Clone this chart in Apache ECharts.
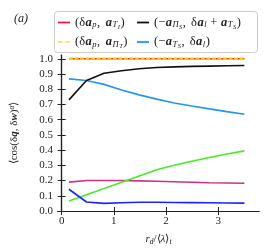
<!DOCTYPE html>
<html><head><meta charset="utf-8">
<script src="https://cdn.jsdelivr.net/npm/echarts@6/dist/echarts.min.js"></script>
<style>html,body{margin:0;padding:0;background:#fff}#c{width:270px;height:252px}</style>
</head><body><div id="c"></div>
<script>
const xValues = [0.14, 0.476, 0.812, 1.148, 1.484, 1.82, 2.156, 2.492, 2.828, 3.164, 3.5];
const redValues = [1, 1, 1, 1, 1, 1, 1, 1, 1, 1, 1];
const yellowValues = [1, 1, 1, 1, 1, 1, 1, 1, 1, 1, 1];
const blackValues = [0.73, 0.857, 0.905, 0.922, 0.935, 0.943, 0.947, 0.95, 0.952, 0.954, 0.956];
const lightBlueValues = [0.868, 0.857, 0.832, 0.795, 0.763, 0.735, 0.71, 0.69, 0.671, 0.653, 0.636];
const magentaValues = [0.19, 0.2, 0.2, 0.2, 0.198, 0.195, 0.192, 0.189, 0.186, 0.184, 0.182];
const greenValues = [0.066, 0.107, 0.148, 0.189, 0.23, 0.271, 0.3, 0.327, 0.352, 0.374, 0.395];
const blueValues = [0.143, 0.059, 0.05, 0.054, 0.057, 0.057, 0.056, 0.055, 0.054, 0.053, 0.052];
const xTicks = [0, 1, 2, 3];
const yTicks = [0, 0.1, 0.2, 0.3, 0.4, 0.5, 0.6, 0.7, 0.8, 0.9, 1.0];

const pair = ys => xValues.map((x, i) => [x, ys[i]]);
const SERIF = 'Liberation Serif';
const mk = (fs, extra) => Object.assign({fontFamily: SERIF, fontSize: fs, color: '#222'}, extra || {});
const rich = {
  n: mk(11), i: mk(11, {fontStyle: 'italic'}), b: mk(11, {fontStyle: 'italic', fontWeight: 'bold'}),
  s: mk(7.5, {fontStyle: 'italic', padding: [5, 0, 0, 0]}),
  ss: mk(5.5, {fontStyle: 'italic', padding: [8, 0, 0, 0]}),
  sup: mk(7.5, {fontStyle: 'italic', padding: [0, 0, 5, 0]})
};
const lrich = {
  n: mk(12.5), c: mk(12.5, {padding: [0, 2, 0, 0]}), b: mk(12.5, {fontStyle: 'italic', fontWeight: 'bold', padding: [0, 0.5, 0, 0.5]}),
  s: mk(8.5, {fontStyle: 'italic', padding: [5, 0.5, 0, 0]}),
  ss: mk(6.5, {fontStyle: 'italic', padding: [9, 0.5, 0, 0]})
};
const legendLabels = {
  red: '{n|(δ}{b|a}{s|p}{c|, }{b|a}{s|T}{ss|I}{n|)}',
  yellow: '{n|(δ}{b|a}{s|p}{c|, }{b|a}{s|Π}{ss|T}{n|)}',
  black: '{n|(−}{b|a}{s|Π}{ss|S}{c|, }{n|δ}{b|a}{s|l}{n| + }{b|a}{s|T}{ss|S}{n|)}',
  lightBlue: '{n|(−}{b|a}{s|T}{ss|S}{c|, }{n|δ}{b|a}{s|l}{n|)}'
};
const SOLID = 'rect';
const DASHED = 'path://M0,0h5v1h-5zM8,0h5v1h-5z';
const line = (name, data, color, extra) => Object.assign({
  name, type: 'line', data: pair(data), symbol: 'none', smooth: false,
  lineStyle: {color, width: 1.6}, itemStyle: {color}, z: 3
}, extra || {});

const chart = echarts.init(document.getElementById('c'), null, {renderer: 'canvas'});
const legendCommon = {orient: 'vertical', top: 16, padding: 0, itemWidth: 12, itemHeight: 1.8, itemGap: 5, z: 110,
  formatter: n => legendLabels[n], textStyle: {rich: lrich}};
chart.setOption({
  animation: false,
  backgroundColor: '#fff',
  grid: {left: 54, right: 11, top: 55, bottom: 41},
  title: {text: '(a)', left: 9, top: 8, textStyle: {fontFamily: SERIF, fontStyle: 'italic', fontWeight: 'normal', fontSize: 12, color: '#222'}},
  graphic: [{type: 'rect', shape: {x: 54.5, y: 11.5, width: 203, height: 41, r: 3}, style: {fill: '#fff', stroke: '#ccc', lineWidth: 1}, z: 100}],
  legend: [
    Object.assign({left: 58, data: [{name: 'red', icon: SOLID}, {name: 'yellow', icon: DASHED}]}, legendCommon),
    Object.assign({left: 137, data: [{name: 'black', icon: SOLID}, {name: 'lightBlue', icon: SOLID}]}, legendCommon)
  ],
  xAxis: [{
    type: 'value', min: -0.07, max: 3.78,
    name: '{i|r}{s|d}{n|/⟨}{i|λ}{n|⟩}{s|t}', nameLocation: 'middle', nameGap: 22,
    nameTextStyle: {rich},
    axisLine: {show: true, lineStyle: {color: '#222', width: 1.2}},
    axisTick: {show: true, inside: true, length: 4, customValues: xTicks, lineStyle: {color: '#222'}},
    axisLabel: {customValues: xTicks, formatter: v => String(v), fontFamily: SERIF, fontSize: 11, color: '#222', margin: 5},
    splitLine: {show: false}
  }, {
    type: 'value', min: -0.07, max: 3.78, position: 'top',
    axisLine: {show: true, lineStyle: {color: '#222', width: 1.2}},
    axisTick: {show: true, inside: true, length: 4, customValues: xTicks, lineStyle: {color: '#222'}},
    axisLabel: {show: false}, splitLine: {show: false}
  }],
  yAxis: [{
    type: 'value', min: 0, max: 1.025,
    name: '{n|⟨cos(δ}{b|q}{n|, δ}{b|w}{n|)}{sup|α}{n|⟩}', nameLocation: 'middle', nameGap: 37, nameRotate: 90,
    nameTextStyle: {rich},
    axisLine: {show: true, lineStyle: {color: '#222', width: 1.2}},
    axisTick: {show: true, inside: true, length: 4, customValues: yTicks, lineStyle: {color: '#222'}},
    axisLabel: {customValues: yTicks, formatter: v => v.toFixed(1), fontFamily: SERIF, fontSize: 11, color: '#222', margin: 5},
    splitLine: {show: false}
  }, {
    type: 'value', min: 0, max: 1.025, position: 'right',
    axisLine: {show: true, lineStyle: {color: '#222', width: 1.2}},
    axisTick: {show: true, inside: true, length: 4, customValues: yTicks, lineStyle: {color: '#222'}},
    axisLabel: {show: false}, splitLine: {show: false}
  }],
  series: [
    line('magenta', magentaValues, '#cc3388'),
    line('green', greenValues, '#44ee22'),
    line('blue', blueValues, '#1a22ff'),
    line('lightBlue', lightBlueValues, '#2196f3'),
    line('black', blackValues, '#111111'),
    line('red', redValues, '#e8202a', {z: 4}),
    line('yellow', yellowValues, '#ffc400', {z: 5, lineStyle: {color: '#ffc400', width: 2.6, type: [4, 1.5]}})
  ]
});
</script></body></html>
